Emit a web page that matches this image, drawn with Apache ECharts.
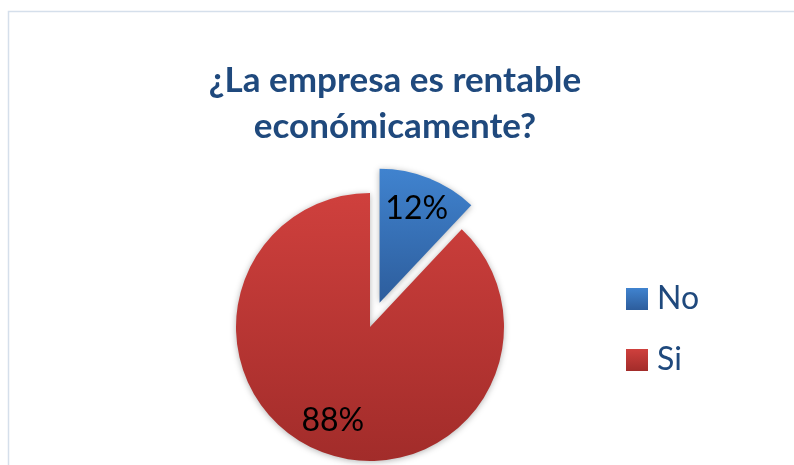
<!DOCTYPE html>
<html>
<head>
<meta charset="utf-8">
<script src="https://cdn.jsdelivr.net/npm/echarts@6/dist/echarts.min.js"></script>
<style>
  html, body { margin: 0; padding: 0; background: #fff; }
  #main { width: 794px; height: 465px; }
</style>
</head>
<body>
<div id="main"></div>
<script>
var categories = ['No', 'Si'];
var values = [12, 88];
var titleText = '¿La empresa es rentable\neconómicamente?';

var fills = [
    new echarts.graphic.LinearGradient(0, 0, 0, 1, [
        { offset: 0, color: '#4083CF' },
        { offset: 1, color: '#2D5D9C' }
    ]),
    new echarts.graphic.LinearGradient(0, 0, 0, 1, [
        { offset: 0, color: '#CF403D' },
        { offset: 1, color: '#A22C2A' }
    ])
];

var pieData = [], labelData = [];
for (var i = 0; i < categories.length; i++) {
    pieData.push({
        name: categories[i],
        value: values[i],
        selected: i === 0,
        itemStyle: { color: fills[i] }
    });
    labelData.push({
        name: categories[i],
        value: values[i],
        selected: i === 0
    });
}

var myChart = echarts.init(document.getElementById('main'));
var option = {
    animation: false,
    title: {
        text: titleText,
        left: 390,
        top: 53,
        textAlign: 'center',
        textStyle: {
            fontFamily: 'Lato',
            fontWeight: 'bold',
            fontSize: 35,
            lineHeight: 46,
            color: '#1F497D'
        }
    },
    legend: {
        orient: 'vertical',
        left: 621,
        top: 278,
        icon: 'rect',
        itemWidth: 22,
        itemHeight: 22,
        itemGap: 29,
        data: categories,
        textStyle: {
            fontFamily: 'Lato',
            fontSize: 32,
            lineHeight: 32,
            color: '#1F497D',
            padding: [0, 0, 0, 4]
        }
    },
    graphic: [{
        type: 'rect',
        shape: { x: 8.5, y: 11.5, width: 800, height: 470 },
        style: { fill: 'none', stroke: '#D5DFEB', lineWidth: 1.5 },
        silent: true
    }],
    series: [{
        type: 'pie',
        center: [370, 327],
        radius: [0, 134],
        startAngle: 90,
        selectedMode: 'single',
        selectedOffset: 26,
        label: { show: false },
        labelLine: { show: false },
        itemStyle: {
            shadowBlur: 6,
            shadowColor: 'rgba(0,0,0,0.3)',
            shadowOffsetY: 1
        },
        emphasis: { disabled: true },
        data: pieData
    }, {
        // transparent copy only used to place the percent labels further out
        type: 'pie',
        center: [370, 327],
        radius: [0, 196],
        startAngle: 90,
        selectedMode: 'single',
        selectedOffset: 26,
        silent: true,
        itemStyle: { color: 'rgba(0,0,0,0)' },
        label: {
            show: true,
            position: 'inside',
            formatter: '{d}%',
            fontFamily: 'Lato',
            fontSize: 32,
            color: '#000'
        },
        labelLine: { show: false },
        emphasis: { disabled: true },
        data: labelData
    }]
};
myChart.setOption(option);
</script>
</body>
</html>
